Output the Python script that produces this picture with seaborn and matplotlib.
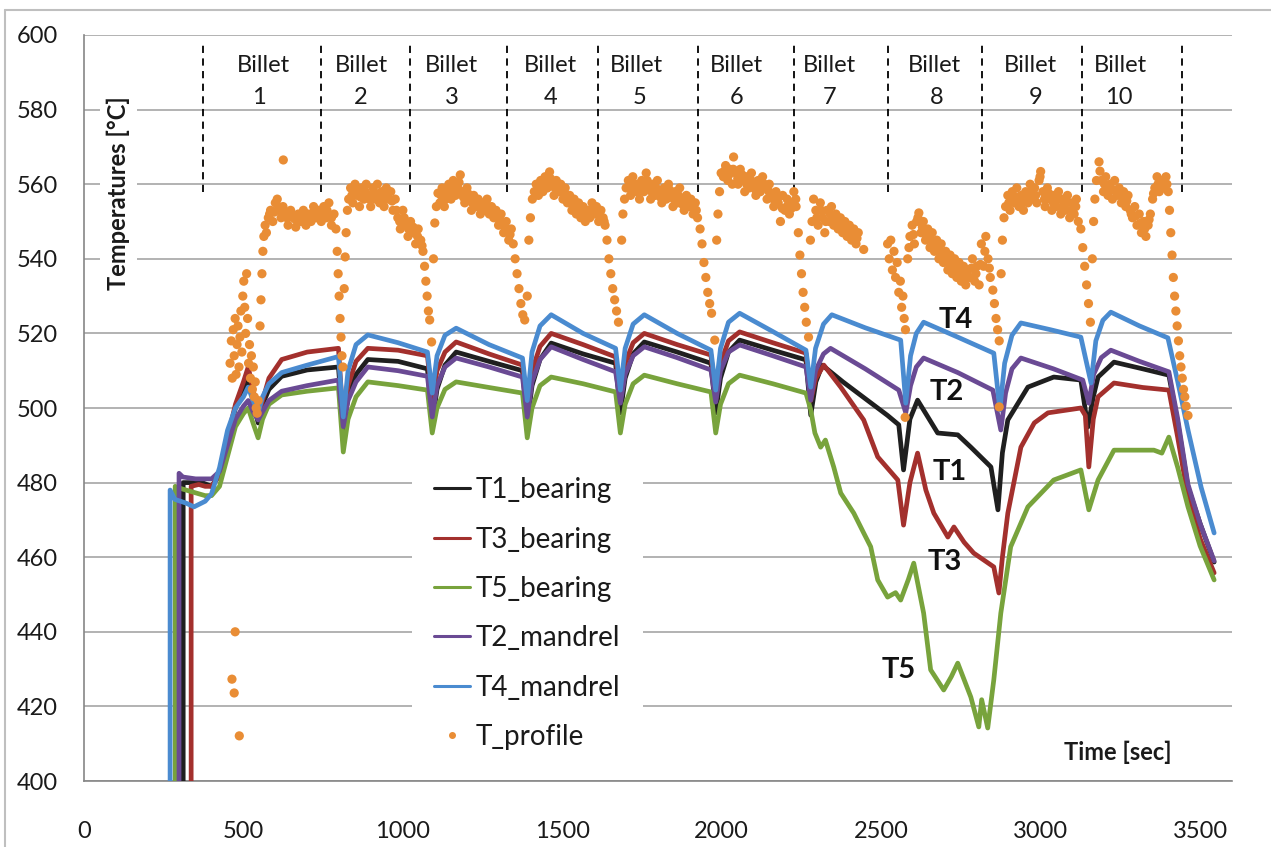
import matplotlib
matplotlib.use("Agg")
import matplotlib.pyplot as plt
from matplotlib.lines import Line2D
import seaborn as sns

# ---------------- data ----------------
billet_bounds = [374, 744, 1023, 1328, 1613, 1924, 2225, 2520, 2815, 3129, 3443]
billet_word_t = [562, 869, 1152, 1463, 1733, 2046, 2338, 2668, 2969, 3249]
billet_num_t = [549, 869, 1152, 1463, 1742, 2046, 2338, 2674, 2985, 3245]
billet_nums = ["1", "2", "3", "4", "5", "6", "7", "8", "9", "10"]

common_t = [400, 425, 450, 475, 500, 515, 530, 546, 560, 580, 620, 700, 798,
            813, 828, 853, 890, 985, 1077,
            1092, 1107, 1132, 1167, 1270, 1375,
            1390, 1405, 1430, 1465, 1565, 1667,
            1682, 1697, 1722, 1757, 1860, 1966,
            1981, 1996, 2021, 2056, 2160, 2264]

# T1_bearing (black)
t1_start_t = [311, 311, 330, 370]
t1_start_v = [398, 480, 480, 480]
t1_common_v = [479, 482, 492, 500, 505, 508.3, 502, 496, 501, 505, 508.5, 510.2, 511,
               494, 503, 509, 513, 512.5, 510.5,
               496, 505, 511.5, 515, 512.5, 510,
               496, 506, 513, 517.4, 514.5, 512,
               498.7, 508, 514.5, 517.7, 515, 512,
               498.7, 508, 515, 518.2, 515.5, 512.9]
t1_tail_t = [2279, 2295, 2315, 2380, 2450, 2520, 2555, 2570, 2590, 2614, 2677, 2740, 2781, 2844,
             2866, 2880, 2897, 2960, 3041, 3126, 3148, 3165, 3180, 3230, 3320, 3402, 3430, 3462,
             3500, 3544]
t1_tail_v = [498.1, 507, 511.5, 507, 502.5, 498, 495.5, 483.4, 497, 502.1, 493.3, 492.8, 489.5, 484.2,
             472.7, 488, 496.8, 505.6, 508.3, 507.5, 494.9, 503, 508.3, 512.3, 510.5, 508.8, 496, 478.8,
             469, 458.7]

# T3_bearing (red)
t3_start_t = [336, 336, 360, 380]
t3_start_v = [398, 479, 479.5, 479]
t3_common_v = [479, 482, 492, 501, 507, 511, 505, 497.6, 502, 508, 513, 515, 516,
               496, 506, 512.5, 516, 515.5, 514,
               501.6, 510, 515, 517.7, 514.5, 511.5,
               500.3, 510, 516.5, 520, 517, 513.7,
               503, 512, 517.5, 520, 517, 514.2,
               502, 512, 518, 520.4, 517.5, 514.7]
t3_tail_t = [2279, 2295, 2320, 2373, 2445, 2489, 2552, 2570, 2590, 2614, 2640, 2665, 2709, 2728,
             2760, 2790, 2853, 2869, 2880, 2897, 2938, 2980, 3023, 3126, 3140, 3151, 3165, 3180,
             3230, 3320, 3402, 3430, 3462, 3500, 3544]
t3_tail_v = [502, 508, 511.5, 505.6, 496.8, 486.9, 480.7, 468.6, 480, 487.9, 478, 471.8, 465.4, 468.1,
             464, 461.1, 457.4, 450.4, 460, 471.8, 489.5, 496, 498.7, 500, 498, 484.2, 497, 503,
             506.7, 505.5, 504.8, 492, 476.1, 465, 455.8]

# T5_bearing (green)
t5_start_t = [286, 286, 300, 340, 380]
t5_start_v = [398, 479, 478.5, 477.5, 476.5]
t5_common_v = [476.5, 479, 487, 495, 498.5, 500, 496, 492, 497, 501, 503.5, 504.5, 505.4,
               488.2, 497, 503, 507, 506, 504.8,
               493.3, 500, 505, 507, 505.5, 504,
               492, 500, 506, 508.3, 506.5, 504.3,
               493.3, 501, 506.5, 508.8, 506.5, 504.3,
               493.3, 501, 506.5, 508.8, 506.5, 504]
t5_tail_t = [2279, 2292, 2310, 2325, 2351, 2373, 2414, 2445, 2467, 2489, 2520, 2545, 2561, 2585,
             2602, 2633, 2655, 2696, 2720, 2740, 2781, 2806, 2815, 2834, 2853, 2875, 2906, 2960,
             3041, 3126, 3151, 3180, 3230, 3355, 3380, 3402, 3430, 3462, 3500, 3544]
t5_tail_v = [499.5, 493.3, 489.5, 491.4, 484.2, 477.2, 471.8, 466.5, 462.8, 453.9, 449.3, 450.5, 448.5, 454,
             458.4, 445, 429.8, 424.4, 428, 431.6, 422.5, 414.5, 421.8, 414.2, 427.1, 445, 462.8, 473.5,
             480.7, 483.4, 472.7, 480.7, 488.7, 488.7, 487.9, 492.2, 484, 473.5, 463, 453.9]

# T2_mandrel (purple)
t2_start_t = [298, 298, 310, 350, 390]
t2_start_v = [398, 482.5, 481.5, 481, 481]
t2_common_v = [481, 483, 490, 497, 500.5, 502, 499, 496.8, 499, 502, 504.5, 506, 507.5,
               495, 502, 507, 511, 510, 508.5,
               497.6, 506, 511, 513.4, 511, 508.3,
               497.6, 507, 513, 516.4, 513, 509.7,
               501.3, 509, 514, 516.4, 513.5, 510.2,
               501.6, 510, 515, 516.9, 514, 511]
t2_tail_t = [2279, 2294, 2319, 2341, 2450, 2555, 2577, 2592, 2610, 2633, 2740, 2850, 2875, 2890,
             2910, 2938, 3040, 3132, 3151, 3166, 3190, 3220, 3310, 3402, 3430, 3462, 3500, 3544]
t2_tail_v = [502.1, 510, 514.5, 516, 510.5, 504.8, 498.7, 506, 511, 513.4, 509.5, 504.8, 494.1, 504,
             510.5, 513.4, 510.5, 507.5, 501.3, 509, 513.5, 515.5, 512.5, 509.7, 497, 479.5, 469, 459]

# T4_mandrel (blue)
t4_start_t = [270, 270, 285, 320, 345, 380]
t4_start_v = [398, 478, 475.5, 474.5, 473.5, 475]
t4_common_v = [477, 484, 494, 500, 503, 505.6, 502, 498.7, 503, 506.5, 509.5, 511.5, 513.8,
               497.6, 510, 517, 519.6, 517.5, 515,
               504, 514, 519.5, 521.4, 517, 513.4,
               502, 515, 522, 525, 520, 516,
               504.8, 516, 522.5, 525, 520, 515.5,
               504.8, 516, 523, 525.4, 520.5, 515.5]
t4_tail_t = [2279, 2294, 2319, 2345, 2450, 2561, 2577, 2592, 2610, 2633, 2740, 2853, 2872, 2887,
             2910, 2938, 3030, 3126, 3158, 3173, 3195, 3220, 3310, 3399, 3430, 3462, 3503, 3544]
t4_tail_v = [505.6, 516, 522.5, 525, 521.5, 518.2, 501.3, 514, 520, 523, 519, 514.7, 499.5, 512,
             519.5, 522.8, 521, 519, 506.7, 518, 523.5, 525.7, 522, 518.8, 507, 494.1, 478.8, 466.5]

# T_profile (orange points) - edges of the scatter band
prof_t = [
    458, 462, 465, 468, 471, 474, 477, 480, 483, 486, 489, 492, 495, 498, 501, 504, 507, 510, 513, 516,
    519, 522, 525, 528, 531, 534, 537, 540, 543, 546,
    464, 471, 474, 487,
    552, 555, 558, 561, 564, 568, 572,
    578, 585, 592, 600, 606, 612, 618, 625, 624, 632, 640, 648, 656, 664, 672, 680, 688, 696, 704, 712,
    720, 728, 736, 744, 752, 760, 768, 776, 784,
    790, 794, 797, 800, 803, 806, 809, 812,
    816, 819, 822, 826, 830,
    836, 843, 850, 857, 864, 871, 878, 885, 892, 899, 906, 913, 920, 927, 934, 941, 948, 955, 962, 969, 976,
    984, 992, 1000, 1008, 1016, 1024, 1032, 1040, 1048, 1056, 1063,
    1068, 1072, 1076, 1080, 1084, 1090,
    1096, 1100, 1105, 1110,
    1116, 1123, 1130, 1137, 1144, 1151, 1158, 1165, 1172, 1180, 1187, 1194, 1201, 1208, 1215, 1222, 1229,
    1236, 1243, 1250, 1257, 1264, 1271, 1278, 1285, 1292,
    1300, 1308, 1316, 1324, 1332, 1340, 1346,
    1352, 1358, 1364, 1370, 1376, 1382,
    1390, 1395, 1400, 1406, 1412,
    1418, 1425, 1432, 1439, 1446, 1453, 1460, 1467, 1474, 1481, 1488, 1495, 1502, 1509, 1516, 1523, 1530,
    1537, 1544, 1551, 1558, 1565, 1572, 1579, 1586, 1593, 1600, 1607, 1614, 1621, 1628, 1634,
    1640, 1646, 1652, 1658, 1664, 1670, 1676,
    1686, 1690, 1695, 1700,
    1707, 1714, 1721, 1728, 1735, 1742, 1749, 1756, 1763, 1770, 1777, 1784, 1791, 1798, 1805, 1812, 1819,
    1826, 1833, 1840, 1847, 1854, 1861, 1868, 1875, 1882, 1889, 1896, 1903, 1910, 1917, 1924,
    1932, 1938, 1944, 1950, 1956, 1962, 1968, 1978,
    1984, 1988, 1993, 1998,
    2005, 2012, 2019, 2026, 2033, 2037, 2044, 2051, 2058, 2065, 2072, 2079, 2086, 2093, 2100, 2107, 2114,
    2121, 2128, 2135, 2142, 2149, 2156, 2163, 2170, 2177, 2184, 2191, 2198, 2205, 2212, 2219, 2226, 2233,
    2240, 2245, 2250, 2255, 2260, 2265, 2272,
    2278, 2283, 2288,
    2295, 2302, 2309, 2316, 2323, 2330, 2337, 2344, 2351, 2358, 2365, 2372, 2379, 2386, 2393, 2400, 2407,
    2414, 2421, 2428, 2445,
    2520, 2525, 2530, 2535, 2540, 2545, 2550, 2555, 2560, 2564, 2568, 2572, 2576, 2575,
    2583, 2590, 2597, 2604, 2611, 2618, 2625, 2632, 2639, 2646, 2653, 2660, 2667, 2674, 2681, 2688, 2695,
    2702, 2709, 2716, 2723, 2730, 2737, 2744, 2751, 2758, 2765, 2772, 2779, 2786, 2793, 2800, 2807, 2814,
    2821, 2828, 2835, 2842,
    2850, 2855, 2860, 2865, 2870, 2870,
    2876, 2880, 2885, 2890,
    2897, 2904, 2911, 2918, 2925, 2932, 2939, 2946, 2953, 2960, 2967, 2974, 2981, 2988, 2995, 3000, 3007,
    3014, 3021, 3028, 3035, 3042, 3049, 3056, 3063, 3070, 3077, 3084, 3091, 3098, 3105, 3112, 3118,
    3126, 3132, 3138, 3144, 3150, 3156,
    3162, 3166, 3170, 3175,
    3183, 3190, 3197, 3204, 3211, 3218, 3225, 3232, 3239, 3246, 3253, 3260, 3267, 3274, 3281, 3288, 3295,
    3302, 3309, 3316, 3323, 3330, 3337, 3344, 3351, 3358, 3365, 3372, 3379, 3386, 3393, 3400,
    3404, 3408, 3412, 3416, 3420, 3424, 3428, 3432, 3436, 3440, 3444, 3448, 3452, 3456, 3462,
]
prof_v = [
    512, 518, 508, 521, 514, 524, 509, 517, 522, 511, 519, 526, 515, 530, 534, 527, 520, 536, 524, 512,
    517, 508, 514, 505, 511, 503, 507, 500, 498.6, 502,
    427.3, 423.6, 440, 412.1,
    522, 529, 536, 542, 546, 549, 547,
    551, 553, 550, 555, 556, 553, 551, 566.5, 554, 552, 549, 553, 551, 548.5, 552, 550, 553, 549, 552, 550,
    554, 551, 553, 550, 554, 551, 555, 549, 552,
    548, 542, 536, 530, 524, 519, 514, 511,
    532, 540.5, 547, 553, 556,
    559, 555, 560, 557, 554, 559, 556, 560, 557, 554, 559, 556, 560, 555, 558, 554, 559, 556, 558, 553, 556,
    551, 548, 553, 549, 546, 550, 547, 544, 548, 545, 542,
    538, 534, 530, 526, 523.6, 517.7,
    540, 549.6, 554, 557.6,
    555, 559, 554, 558, 560, 556, 561, 557, 559, 562.5, 558, 555, 559, 556, 553, 557, 554,
    556, 552, 555, 553, 556, 552, 554, 551, 553,
    549, 552, 547, 550, 545, 548, 544,
    540, 536, 532, 528, 525, 523.6,
    530, 545, 551, 556, 558,
    560, 557, 561, 558, 562, 559, 563.3, 560, 557, 561, 558, 560, 556, 559, 555, 557, 553,
    556, 552, 555, 551, 554, 550, 553, 551, 555, 552, 554, 550, 553, 551, 549,
    545, 540, 536, 532, 529, 526, 523,
    545, 552, 556, 559,
    561, 557, 562, 558, 560, 556, 561, 558, 563, 559, 556, 560, 557, 561, 558, 555, 559,
    556, 560, 557, 554, 558, 555, 559, 556, 553, 557, 554, 556, 552, 555, 551,
    548, 544, 539, 535, 531, 528, 525.4, 518.2,
    545, 552, 558, 563,
    562, 565, 561, 564, 560, 567.3, 563, 560, 564, 561, 558, 562, 559, 563, 560, 557, 561,
    558, 562, 559, 556, 560, 557, 554, 558, 555, 550, 557, 553, 556, 552, 555, 558, 554,
    547, 541, 536, 531, 527, 523, 519,
    545, 550, 556,
    553, 549, 555, 551, 547, 553, 550, 554, 549, 552, 548, 551, 547, 550, 546, 549, 545,
    548, 544, 547, 542.5,
    544, 540, 545, 537, 542, 535, 539, 531, 534, 527, 530, 524, 521, 497.5,
    540, 546, 549, 544, 550, 552.3, 547, 550, 545, 548, 543, 547, 542, 545, 540, 544, 539,
    542, 537, 541, 536, 540, 535, 539, 534, 538, 533, 537, 535, 540, 534, 538, 533, 544,
    538, 546, 540, 535,
    531.6, 528, 524, 521, 518, 500.3,
    536, 545, 551, 554,
    557, 553, 558, 555, 559, 554, 557, 553, 558, 555, 560, 556, 559, 555, 561, 563.4, 558,
    554, 559, 556, 553, 557, 554, 558, 552, 556, 553, 557, 551, 555, 552, 556, 550,
    548, 543, 538, 533, 528, 523,
    540, 550, 556, 561,
    566, 561, 558, 562, 557, 560, 556, 561, 557, 559, 555, 558, 554, 557, 553, 551, 554,
    549, 552, 547, 550, 546, 549, 552, 556, 559, 562, 558, 561, 559, 562, 558,
    553, 547, 541, 535, 530, 526, 522, 518, 514, 511, 508, 505, 503, 500.5, 498,
]

# T_profile (orange points) - middle of the scatter band on each plateau
prof_mid_t = [
    582, 596, 610, 622, 636, 650, 664, 678, 692, 706, 720, 734, 748, 762, 776,
    840, 854, 868, 882, 896, 910, 924, 938, 952, 966, 980,
    990, 1004, 1018, 1032, 1046, 1060,
    1120, 1134, 1148, 1162, 1176, 1190, 1204, 1218, 1232, 1246, 1260, 1274, 1288,
    1304, 1320, 1336,
    1421, 1435, 1449, 1463, 1477, 1491, 1505, 1519, 1533, 1547, 1561, 1575, 1589, 1603, 1617, 1631,
    1710, 1724, 1738, 1752, 1766, 1780, 1794, 1808, 1822, 1836, 1850, 1864, 1878, 1892, 1906, 1920,
    2008, 2022, 2036, 2050, 2064, 2078, 2092, 2106, 2120, 2134, 2148, 2162, 2176, 2190, 2204, 2218, 2232,
    2298, 2312, 2326, 2340, 2354, 2368, 2382, 2396, 2410, 2424,
    2587, 2601, 2615, 2629, 2643, 2657, 2671, 2685, 2699, 2713, 2727, 2741, 2755, 2769, 2783, 2797, 2811,
    2825, 2839,
    2900, 2914, 2928, 2942, 2956, 2970, 2984, 2998, 3012, 3026, 3040, 3054, 3068, 3082, 3096, 3110,
    3186, 3200, 3214, 3228, 3242, 3256, 3270, 3284, 3298, 3312, 3326, 3340, 3354, 3368, 3382, 3396,
]
prof_mid_v = [
    552, 552.5, 554, 553, 551, 552, 550.5, 551.5, 551, 551, 552.5, 552, 552, 553, 551,
    557, 558, 556.5, 558, 556, 557.5, 557.5, 556, 557.5, 555.5, 553,
    550, 551, 548, 548.5, 546, 543.5,
    557, 556, 558, 559, 560.5, 556.5, 557.5, 555, 555, 553.5, 554.5, 553, 552,
    550.5, 548.5, 546.5,
    558.5, 559.5, 560.5, 561.5, 559, 559, 557.5, 556, 554.5, 553.5, 552.5, 551.5, 553, 553, 551.5, 550,
    559, 560, 558, 559.5, 561, 558, 559, 556.5, 557.5, 558.5, 556, 557, 554.5, 555.5, 554, 553,
    563.5, 562.5, 564, 561.5, 562.5, 560, 561, 558.5, 559.5, 560, 558, 556, 556.5, 553.5, 554, 553.5, 556,
    551, 553, 550, 552, 550.5, 549.5, 548.5, 547.5, 546.5, 545.5,
    543, 546.5, 551, 548.5, 546.5, 545, 543.5, 542, 540.5, 539, 538, 537, 536, 535, 537.5, 536, 538.5,
    542, 537.5,
    555, 556.5, 556.5, 555, 556.5, 558, 557, 562, 556, 557.5, 555, 556, 554, 555, 553, 554,
    563.5, 560, 558.5, 558.5, 558, 556.5, 555.5, 552, 551.5, 549.5, 548, 550.5, 557.5, 560, 560, 560,
]

series_names = ["T1_bearing", "T3_bearing", "T5_bearing", "T2_mandrel", "T4_mandrel"]
series_colors = ["#1f1f1f", "#a3302d", "#78a33c", "#6a4a94", "#4a8bd0"]
profile_color = "#e98d35"

series_data = [
    (t1_start_t + common_t + t1_tail_t, t1_start_v + t1_common_v + t1_tail_v),
    (t3_start_t + common_t + t3_tail_t, t3_start_v + t3_common_v + t3_tail_v),
    (t5_start_t + common_t + t5_tail_t, t5_start_v + t5_common_v + t5_tail_v),
    (t2_start_t + common_t + t2_tail_t, t2_start_v + t2_common_v + t2_tail_v),
    (t4_start_t + common_t + t4_tail_t, t4_start_v + t4_common_v + t4_tail_v),
]

curve_labels = [("T4", 2734, 523.6), ("T2", 2706, 504.3), ("T1", 2715, 482.8),
                ("T3", 2699, 458.7), ("T5", 2555, 429.8)]

# ---------------- style ----------------
sns.set_theme(style="white")
plt.rcParams["font.family"] = ["Lato", "DejaVu Sans"]

W, H = 1271, 847
fig = plt.figure(figsize=(W / 100, H / 100), dpi=100)
ax_l, ax_r, ax_t, ax_b = 84, 1232, 35, 781
ax = fig.add_axes([ax_l / W, (H - ax_b) / H, (ax_r - ax_l) / W, (ax_b - ax_t) / H])

for (tt, vv), col in zip(series_data, series_colors):
    sns.lineplot(x=tt, y=vv, ax=ax, color=col, lw=3.4, sort=False, estimator=None,
                 legend=False, zorder=3)

sns.scatterplot(x=prof_t + prof_mid_t, y=prof_v + prof_mid_v, ax=ax, color=profile_color,
                s=44, marker="o", edgecolor="none", linewidth=0, legend=False, zorder=4)

ax.set_xlim(0, 3600)
ax.set_ylim(400, 600)
ax.set_xticks(range(0, 3501, 500))
ax.set_yticks(range(400, 601, 20))
ax.yaxis.grid(True, color="#a5a5a5", lw=1.2)
ax.xaxis.grid(False)
ax.set_axisbelow(True)
for s in ["top", "right"]:
    ax.spines[s].set_visible(False)
for s in ["left", "bottom"]:
    ax.spines[s].set_color("#868686")
    ax.spines[s].set_linewidth(1.2)
ax.tick_params(axis="both", direction="out", length=7, width=1.2, color="#868686",
               labelsize=17, labelcolor="#1a1a1a")
ax.tick_params(axis="x", pad=22)
ax.tick_params(axis="y", pad=12)
ax.set_xlabel("")
ax.set_ylabel("")

# billet separators & labels
ax.vlines(billet_bounds, 558, 598, colors="black", linestyles=(0, (4, 3)), lw=1.3, zorder=2)
for tw, tn, n in zip(billet_word_t, billet_num_t, billet_nums):
    ax.text(tw, 591.8, "Billet", ha="center", va="center", fontsize=17, color="#1a1a1a")
    ax.text(tn, 583.2, n, ha="center", va="center", fontsize=17, color="#1a1a1a")

# y label inside plot
ax.text(107, 557.6, "Temperatures [°C]", rotation=90, ha="center", va="center",
        fontsize=17, fontweight="bold", color="#1a1a1a",
        bbox=dict(fc="white", ec="none", pad=5), zorder=2.5)
ax.text(3242, 407.8, "Time [sec]", ha="center", va="center", fontsize=17,
        fontweight="bold", color="#1a1a1a")

for lab, tx, ty in curve_labels:
    ax.text(tx, ty, lab, ha="center", va="center", fontsize=21, fontweight="bold",
            color="#111111", zorder=5)

handles = [Line2D([], [], color=c, lw=2.2) for c in series_colors]
handles.append(Line2D([], [], color=profile_color, marker="o", ls="none", ms=4))
labels = series_names + ["T_profile"]
leg = ax.legend(handles, labels, loc="upper left", bbox_to_anchor=(0.2857, 0.437),
                borderaxespad=0, frameon=True, facecolor="white", edgecolor="none",
                framealpha=1, fancybox=False, fontsize=20, handlelength=1.3,
                handletextpad=0.2, labelspacing=0.84, borderpad=0.8)
for txt in leg.get_texts():
    txt.set_color("#1a1a1a")

# outer chart frame (left and top edges)
fig.add_artist(Line2D([5 / W, 5 / W], [0, 1 - 10 / H], transform=fig.transFigure,
                      color="#bfbfbf", lw=1.5))
fig.add_artist(Line2D([5 / W, 1], [1 - 10 / H, 1 - 10 / H], transform=fig.transFigure,
                      color="#bfbfbf", lw=1.5))

fig.savefig("out.png", dpi=100)
